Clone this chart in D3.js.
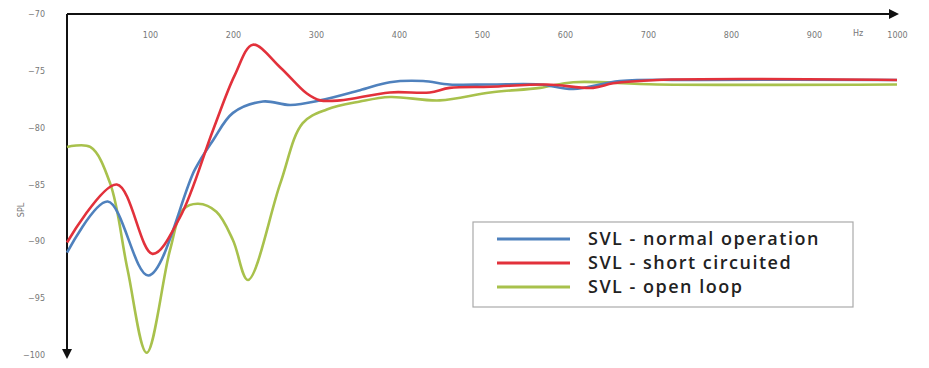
<!DOCTYPE html>
<html>
<head>
<meta charset="utf-8">
<script src="https://cdn.jsdelivr.net/npm/d3@7/dist/d3.min.js"></script>
<style>
  html, body { margin: 0; padding: 0; background: #ffffff; }
  svg { display: block; }
</style>
</head>
<body>
<script>
// ---- data ----
const xTicks = [100, 200, 300, 400, 500, 600, 700, 800, 900, 1000];
const yTicks = [-70, -75, -80, -85, -90, -95, -100];
const seriesNames = ["SVL - normal operation", "SVL - short circuited", "SVL - open loop"];

const normalFreq = [0, 49, 98, 154, 176, 200, 236, 269, 305, 353, 389, 429, 461, 510, 570, 610, 666, 763, 1000];
const normalSPL  = [-91.0, -86.5, -93.0, -83.7, -81.1, -78.7, -77.7, -78.0, -77.6, -76.7, -76.0, -75.9, -76.2, -76.2, -76.2, -76.6, -75.9, -75.8, -75.8];

const shortFreq = [0, 60, 103, 136, 176, 202, 224, 257, 289, 305, 329, 389, 437, 461, 510, 578, 634, 658, 711, 1000];
const shortSPL  = [-90.1, -85.0, -91.1, -87.9, -80.2, -75.4, -72.7, -74.7, -77.0, -77.6, -77.6, -76.9, -76.9, -76.5, -76.4, -76.2, -76.5, -76.1, -75.8, -75.8];

const openFreq = [0, 28, 52, 73, 96, 124, 140, 158, 180, 200, 218, 257, 284, 313, 353, 389, 449, 510, 570, 610, 711, 1000];
const openSPL  = [-81.7, -81.7, -84.9, -92.5, -99.8, -90.8, -87.2, -86.7, -87.4, -89.9, -93.4, -84.9, -79.6, -78.4, -77.7, -77.3, -77.6, -76.9, -76.5, -76.0, -76.2, -76.2];

const colors = ["#4f81bd", "#e2313b", "#a8c14c"];

// ---- layout ----
const W = 929, H = 368;
const x0 = 67, x1 = 897, yTop = 14, yBot = 355;

const svg = d3.select("body").append("svg").attr("width", W).attr("height", H);

const x = d3.scaleLinear().domain([0, 1000]).range([x0, x1]);
const y = d3.scaleLinear().domain([-70, -100]).range([yTop, yBot]);

// x tick labels (below top axis)
const xAxis = d3.axisBottom(x).tickValues(xTicks).tickSize(0).tickPadding(18).tickFormat(d3.format("d"));
const gx = svg.append("g").attr("transform", `translate(0,${yTop})`).call(xAxis);
gx.select(".domain").remove();
gx.selectAll("text").attr("fill", "#777").style("font-family", "DejaVu Sans, sans-serif").style("font-size", "8px");

// y tick labels
const yAxis = d3.axisLeft(y).tickValues(yTicks).tickSize(0).tickPadding(22).tickFormat(d3.format("d"));
const gy = svg.append("g").attr("transform", `translate(${x0},0)`).call(yAxis);
gy.select(".domain").remove();
gy.selectAll("text").attr("fill", "#777").style("font-family", "DejaVu Sans, sans-serif").style("font-size", "8px");

// unit labels
svg.append("text").attr("x", 858).attr("y", 36).attr("text-anchor", "middle")
  .attr("fill", "#777").style("font-family", "DejaVu Sans, sans-serif").style("font-size", "8px").text("Hz");
svg.append("text").attr("transform", "translate(24,210) rotate(-90)").attr("text-anchor", "middle")
  .attr("fill", "#777").style("font-family", "DejaVu Sans, sans-serif").style("font-size", "8px").text("SPL");

// axes lines with arrows
const defs = svg.append("defs");
defs.append("marker").attr("id", "arr").attr("viewBox", "0 0 10 10").attr("refX", 8).attr("refY", 5)
  .attr("markerWidth", 5).attr("markerHeight", 5).attr("orient", "auto")
  .append("path").attr("d", "M0,0 L10,5 L0,10 Z").attr("fill", "#111");

svg.append("line").attr("x1", x0).attr("y1", yTop).attr("x2", x(1000)).attr("y2", yTop)
  .attr("stroke", "#111").attr("stroke-width", 2).attr("marker-end", "url(#arr)");
svg.append("line").attr("x1", x0).attr("y1", yTop).attr("x2", x0).attr("y2", yBot + 2)
  .attr("stroke", "#111").attr("stroke-width", 2).attr("marker-end", "url(#arr)");

// curves
const line = d3.line().x(d => x(d[0])).y(d => y(d[1])).curve(d3.curveCatmullRom.alpha(0.5));
const series = [
  { freq: openFreq, spl: openSPL, color: colors[2] },
  { freq: normalFreq, spl: normalSPL, color: colors[0] },
  { freq: shortFreq, spl: shortSPL, color: colors[1] }
];
series.forEach(s => {
  const pts = s.freq.map((f, i) => [f, s.spl[i]]);
  svg.append("path").datum(pts).attr("d", line).attr("fill", "none")
    .attr("stroke", s.color).attr("stroke-width", 2.6).attr("stroke-linejoin", "round");
});

// legend
const lg = svg.append("g");
lg.append("rect").attr("x", 473).attr("y", 222).attr("width", 380).attr("height", 85)
  .attr("fill", "#fff").attr("stroke", "#aaa").attr("stroke-width", 1.2);
seriesNames.forEach((n, i) => {
  const yy = 239 + i * 24;
  lg.append("line").attr("x1", 497).attr("x2", 570).attr("y1", yy).attr("y2", yy)
    .attr("stroke", colors[i]).attr("stroke-width", 3);
  lg.append("text").attr("x", 588).attr("y", yy + 6).text(n)
    .attr("fill", "#222").style("font-family", "Open Sans, sans-serif").style("font-size", "18px")
    .style("font-weight", "600").style("letter-spacing", "1.5px");
});
</script>
</body>
</html>
